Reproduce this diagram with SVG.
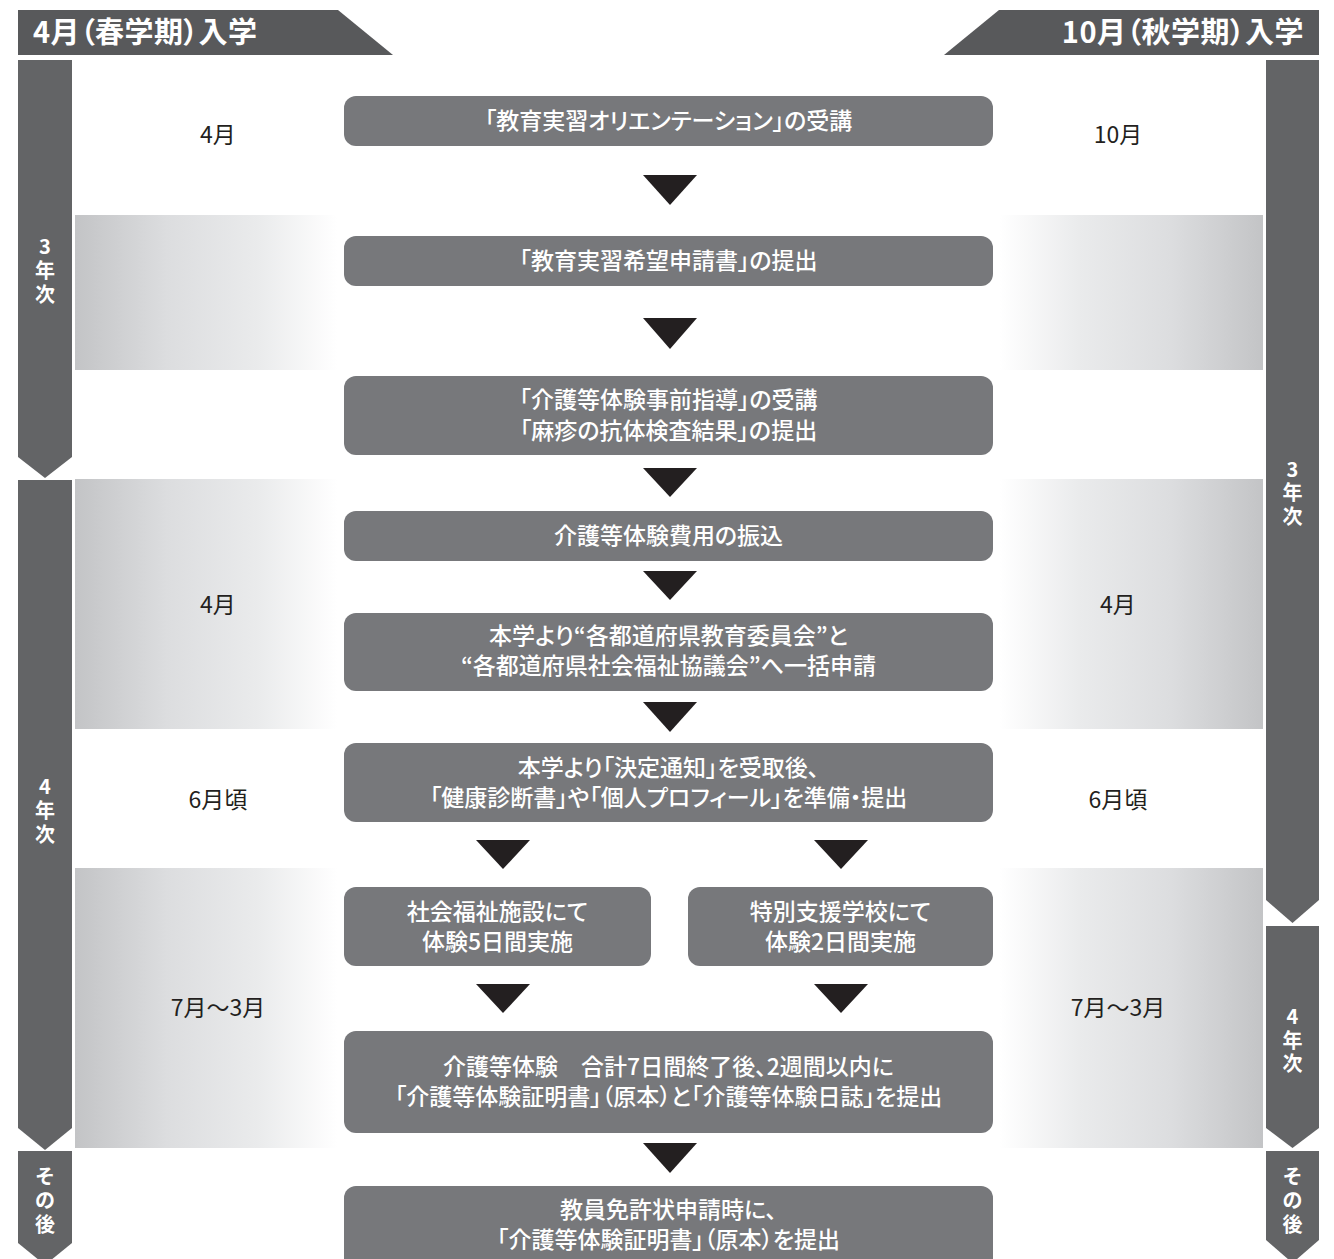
<svg xmlns="http://www.w3.org/2000/svg" width="1334" height="1259" viewBox="0 0 1334 1259">
<defs>
<linearGradient id="gl" x1="0" y1="0" x2="1" y2="0">
<stop offset="0" stop-color="#c3c4c6"/>
<stop offset="0.35" stop-color="#dcdddf"/>
<stop offset="0.7" stop-color="#eaebec"/>
<stop offset="1" stop-color="#ffffff"/>
</linearGradient>
<linearGradient id="gr" x1="1" y1="0" x2="0" y2="0">
<stop offset="0" stop-color="#c3c4c6"/>
<stop offset="0.35" stop-color="#dcdddf"/>
<stop offset="0.7" stop-color="#eaebec"/>
<stop offset="1" stop-color="#ffffff"/>
</linearGradient>
<style>
.hd{fill:#58595b}
.bar{fill:#636466}
.box{fill:#77787b}
.tri{fill:#231f20}
.ht{font-family:"Noto Sans CJK JP","Noto Sans",sans-serif;font-weight:bold;font-size:29px;letter-spacing:0.5px;fill:#ffffff;font-feature-settings:"palt" 1}
.bt{font-family:"Noto Sans CJK JP","Noto Sans",sans-serif;font-weight:500;font-size:23px;fill:#ffffff;text-anchor:middle;font-feature-settings:"palt" 1}
.vt{font-family:"Noto Sans CJK JP","Noto Sans",sans-serif;font-weight:bold;font-size:20px;fill:#ffffff;text-anchor:middle}
.st{font-family:"Noto Sans CJK JP","Noto Sans",sans-serif;font-size:23px;fill:#231f20;text-anchor:middle}
</style>
</defs>
<rect width="1334" height="1259" fill="#ffffff"/>

<g id="bands">
<rect x="75" y="215" width="262" height="155" fill="url(#gl)"/>
<rect x="1000" y="215" width="263" height="155" fill="url(#gr)"/>
<rect x="75" y="479" width="262" height="250" fill="url(#gl)"/>
<rect x="1000" y="479" width="263" height="250" fill="url(#gr)"/>
<rect x="75" y="868" width="262" height="280" fill="url(#gl)"/>
<rect x="1000" y="868" width="263" height="280" fill="url(#gr)"/>
</g>

<g id="header-left">
<polygon class="hd" points="18,10 338,10 393,55 18,55"/>
<text class="ht" x="33" y="43">4月（春学期）入学</text>
</g>
<g id="header-right">
<polygon class="hd" points="999,10 1319,10 1319,55 944,55"/>
<text class="ht" x="1304" y="43" text-anchor="end">10月（秋学期）入学</text>
</g>

<g id="bar-left-3">
<path class="bar" d="M18,60 H72 V457 L45,478 L18,457 Z"/>
<text class="vt"><tspan x="45" y="254">3</tspan><tspan x="45" y="278">年</tspan><tspan x="45" y="302">次</tspan></text>
</g>
<g id="bar-left-4">
<path class="bar" d="M18,480 H72 V1128 L45,1150 L18,1128 Z"/>
<text class="vt"><tspan x="45" y="794">4</tspan><tspan x="45" y="818">年</tspan><tspan x="45" y="842">次</tspan></text>
</g>
<g id="bar-left-after">
<path class="bar" d="M18,1151 H72 V1243 L45,1265 L18,1243 Z"/>
<text class="vt"><tspan x="45" y="1184">そ</tspan><tspan x="45" y="1208">の</tspan><tspan x="45" y="1232">後</tspan></text>
</g>
<g id="bar-right-3">
<path class="bar" d="M1266,60 H1319 V900 L1292.5,923 L1266,900 Z"/>
<text class="vt"><tspan x="1292.5" y="477">3</tspan><tspan x="1292.5" y="500">年</tspan><tspan x="1292.5" y="524">次</tspan></text>
</g>
<g id="bar-right-4">
<path class="bar" d="M1266,926 H1319 V1128 L1292.5,1148 L1266,1128 Z"/>
<text class="vt"><tspan x="1292.5" y="1024">4</tspan><tspan x="1292.5" y="1048">年</tspan><tspan x="1292.5" y="1071">次</tspan></text>
</g>
<g id="bar-right-after">
<path class="bar" d="M1266,1151 H1319 V1240 L1292.5,1263 L1266,1240 Z"/>
<text class="vt"><tspan x="1292.5" y="1184">そ</tspan><tspan x="1292.5" y="1208">の</tspan><tspan x="1292.5" y="1232">後</tspan></text>
</g>

<g id="side-labels">
<text class="st" x="218" y="143">4月</text>
<text class="st" x="1118" y="143">10月</text>
<text class="st" x="218" y="613">4月</text>
<text class="st" x="1118" y="613">4月</text>
<text class="st" x="218" y="808">6月頃</text>
<text class="st" x="1118" y="808">6月頃</text>
<text class="st" x="218" y="1016">7月〜3月</text>
<text class="st" x="1118" y="1016">7月〜3月</text>
</g>

<g id="connectors">
<polygon class="tri" points="643,175 697,175 670,205"/>
<polygon class="tri" points="643,318 697,318 670,349"/>
<polygon class="tri" points="643,468 697,468 670,497"/>
<polygon class="tri" points="643,571 697,571 670,600"/>
<polygon class="tri" points="643,702 697,702 670,732"/>
<polygon class="tri" points="476,840 530,840 503,869"/>
<polygon class="tri" points="814,840 868,840 841,869"/>
<polygon class="tri" points="476,984 530,984 503,1013"/>
<polygon class="tri" points="814,984 868,984 841,1013"/>
<polygon class="tri" points="643,1143 697,1143 670,1173"/>
</g>

<g id="node1">
<rect class="box" x="344" y="96" width="649" height="50" rx="12"/>
<text class="bt" x="668.5" y="129">「教育実習オリエンテーション」の受講</text>
</g>
<g id="node2">
<rect class="box" x="344" y="236" width="649" height="50" rx="12"/>
<text class="bt" x="668.5" y="269">「教育実習希望申請書」の提出</text>
</g>
<g id="node3">
<rect class="box" x="344" y="376" width="649" height="79" rx="12"/>
<text class="bt" x="668.5" y="408">「介護等体験事前指導」の受講</text>
<text class="bt" x="668.5" y="439">「麻疹の抗体検査結果」の提出</text>
</g>
<g id="node4">
<rect class="box" x="344" y="511" width="649" height="50" rx="12"/>
<text class="bt" x="668.5" y="544">介護等体験費用の振込</text>
</g>
<g id="node5">
<rect class="box" x="344" y="613" width="649" height="78" rx="12"/>
<text class="bt" x="668.5" y="644">本学より“各都道府県教育委員会”と</text>
<text class="bt" x="668.5" y="674">“各都道府県社会福祉協議会”へ一括申請</text>
</g>
<g id="node6">
<rect class="box" x="344" y="743" width="649" height="79" rx="12"/>
<text class="bt" x="668.5" y="776">本学より「決定通知」を受取後、</text>
<text class="bt" x="668.5" y="806">「健康診断書」や「個人プロフィール」を準備・提出</text>
</g>
<g id="node7a">
<rect class="box" x="344" y="887" width="307" height="79" rx="12"/>
<text class="bt" x="497.5" y="920">社会福祉施設にて</text>
<text class="bt" x="497.5" y="950">体験5日間実施</text>
</g>
<g id="node7b">
<rect class="box" x="688" y="887" width="305" height="79" rx="12"/>
<text class="bt" x="840.5" y="920">特別支援学校にて</text>
<text class="bt" x="840.5" y="950">体験2日間実施</text>
</g>
<g id="node8">
<rect class="box" x="344" y="1031" width="649" height="102" rx="12"/>
<text class="bt" x="668.5" y="1075">介護等体験　合計7日間終了後、2週間以内に</text>
<text class="bt" x="668.5" y="1105">「介護等体験証明書」（原本）と「介護等体験日誌」を提出</text>
</g>
<g id="node9">
<rect class="box" x="344" y="1186" width="649" height="95" rx="12"/>
<text class="bt" x="668.5" y="1218">教員免許状申請時に、</text>
<text class="bt" x="668.5" y="1248">「介護等体験証明書」（原本）を提出</text>
</g>
</svg>
